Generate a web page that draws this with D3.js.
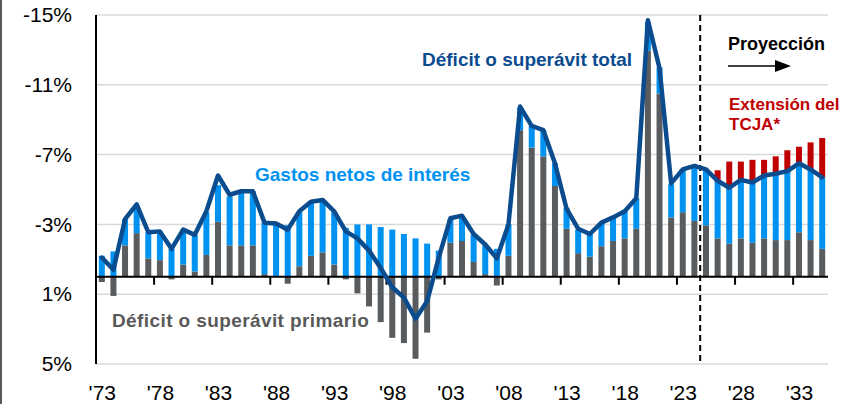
<!DOCTYPE html>
<html lang="es">
<head>
    <meta charset="utf-8">
    <title>Déficit</title>
    <script src="https://d3js.org/d3.v7.min.js"></script>
    <style>
        body { margin: 0; background: #fff; }
        text { font-family: Arial, "Liberation Sans", sans-serif; }
        .lab { font-weight: bold; }
    </style>
</head>
<body>

<script>
    // categories
    const years = d3.range(1973, 2036);
    const xLabels = ["'73","'78","'83","'88","'93","'98","'03","'08","'13","'18","'23","'28","'33"];
    const yTicks = [-15, -11, -7, -3, 1, 5];

    // % del PIB, negativo = déficit
    const primary = [0.3, 1.1, -1.8, -2.5, -1.05, -0.95, 0.15, -0.7, -0.3, -1.25,
        -3.15, -1.8, -1.8, -1.8, -0.15, -0.05, 0.4, -0.6, -1.2, -1.4,
        -0.7, 0.15, 0.95, 1.7, 2.6, 3.5, 3.8, 4.7, 3.2, 0.15,
        -1.95, -2.05, -0.85, -0.15, 0.5, -1.2, -8.4, -7.4, -6.9, -5.2,
        -2.75, -1.35, -1.15, -1.75, -2.05, -2.2, -2.75, -12.95, -10.5, -3.4,
        -3.7, -3.2, -2.95, -2.2, -1.9, -2.2, -1.95, -2.2, -2.1, -2.1,
        -2.55, -2.1, -1.6];
    const interest = [1.2, 1.45, 1.5, 1.6, 1.5, 1.6, 1.6, 1.95, 2.1, 2.45,
        2.1, 2.8, 3.1, 3.1, 2.95, 3.0, 2.95, 3.1, 3.1, 3.0,
        3.0, 2.8, 3.0, 3.0, 2.85, 2.7, 2.45, 2.2, 1.9, 1.5,
        1.35, 1.4, 1.55, 1.65, 1.6, 1.8, 1.3, 1.25, 1.5, 1.3,
        1.2, 1.35, 1.3, 1.35, 1.4, 1.55, 1.75, 1.65, 1.5, 1.9,
        2.45, 3.15, 3.2, 3.25, 3.2, 3.35, 3.45, 3.6, 3.8, 3.95,
        3.95, 4.05, 4.1];
    const total = [-1.1, -0.4, -3.3, -4.15, -2.55, -2.6, -1.6, -2.7, -2.4, -3.75,
        -5.8, -4.7, -4.9, -4.9, -3.1, -3.05, -2.7, -3.75, -4.3, -4.4,
        -3.75, -2.6, -2.2, -1.5, -0.5, 0.6, 1.2, 2.4, 1.4, -1.1,
        -3.35, -3.5, -2.45, -1.85, -1.05, -3.0, -9.75, -8.65, -8.4, -6.5,
        -3.9, -2.75, -2.45, -3.1, -3.4, -3.75, -4.5, -14.7, -11.95, -5.35,
        -6.15, -6.35, -6.15, -5.5, -5.1, -5.55, -5.4, -5.8, -5.9, -6.05,
        -6.5, -6.15, -5.7];
    // extensión TCJA, 2026-2035
    const tcjaYears = d3.range(2026, 2036);
    const tcja = [0.65, 1.5, 1.05, 1.3, 0.9, 1.0, 1.2, 0.95, 1.55, 2.25];

    const W = 852, H = 404;
    const pl = 96, pr = 828, pt = 15, pb = 364;

    const svg = d3.select("body").append("svg").attr("width", W).attr("height", H);

    const x = d3.scaleBand().domain(years).range([pl, pr]).padding(0);
    const y = d3.scaleLinear().domain([-15, 5]).range([pt, pb]);
    const bw = 6;
    const cx = d => x(d) + x.bandwidth() / 2;

    // frame line at left
    svg.append("line").attr("x1", 1).attr("x2", 1).attr("y1", 0).attr("y2", H)
        .attr("stroke", "#222").attr("stroke-width", 1.5);

    // gridlines
    svg.append("g").selectAll("line").data(yTicks).join("line")
        .attr("x1", pl).attr("x2", pr)
        .attr("y1", d => y(d)).attr("y2", d => y(d))
        .attr("stroke", "#d9d9d9").attr("stroke-width", 1.5);

    const rows = years.map((yr, i) => {
        const p = primary[i];
        const base = p < 0 ? p : 0;
        return { yr, p, b0: base, b1: base - interest[i], t: total[i] };
    });

    // primary bars
    svg.append("g").selectAll("rect").data(rows).join("rect")
        .attr("x", d => cx(d.yr) - bw / 2).attr("width", bw)
        .attr("y", d => y(Math.min(0, d.p)))
        .attr("height", d => Math.abs(y(d.p) - y(0)))
        .attr("fill", "#585c5f");

    // net interest bars
    svg.append("g").selectAll("rect").data(rows).join("rect")
        .attr("x", d => cx(d.yr) - bw / 2).attr("width", bw)
        .attr("y", d => y(d.b1))
        .attr("height", d => y(d.b0) - y(d.b1))
        .attr("fill", "#0092f0");

    // TCJA extension bars
    svg.append("g").selectAll("rect").data(tcjaYears).join("rect")
        .attr("x", d => cx(d) - bw / 2).attr("width", bw)
        .attr("y", (d, i) => { const r = rows[years.indexOf(d)]; return y(r.b1 - tcja[i]); })
        .attr("height", (d, i) => { const r = rows[years.indexOf(d)]; return y(r.b1) - y(r.b1 - tcja[i]); })
        .attr("fill", "#c00000");

    // zero line
    svg.append("line").attr("x1", pl).attr("x2", pr)
        .attr("y1", y(0)).attr("y2", y(0))
        .attr("stroke", "#000").attr("stroke-width", 2);

    // x tick marks at category boundaries
    const tickYears = years.filter((d, i) => i > 0 && i % 5 === 0);
    svg.append("g").selectAll("line").data(tickYears).join("line")
        .attr("x1", d => x(d)).attr("x2", d => x(d))
        .attr("y1", y(0)).attr("y2", y(0) + 8)
        .attr("stroke", "#000").attr("stroke-width", 2);

    // projection divider
    svg.append("line")
        .attr("x1", x(2025)).attr("x2", x(2025))
        .attr("y1", pt).attr("y2", pb)
        .attr("stroke", "#000").attr("stroke-width", 2)
        .attr("stroke-dasharray", "6,4");

    // total deficit line
    const line = d3.line().x(d => cx(d.yr)).y(d => y(d.t));
    svg.append("path").datum(rows).attr("d", line)
        .attr("fill", "none").attr("stroke", "#0b4c8f")
        .attr("stroke-width", 4.5).attr("stroke-linejoin", "round").attr("stroke-linecap", "round");

    // y axis
    svg.append("line").attr("x1", pl).attr("x2", pl)
        .attr("y1", pt).attr("y2", pb)
        .attr("stroke", "#000").attr("stroke-width", 2);
    const yAxis = svg.append("g").attr("transform", `translate(${pl - 24},0)`)
        .call(d3.axisLeft(y).tickValues(yTicks).tickSize(0).tickFormat(d => d + "%"));
    yAxis.select(".domain").remove();
    yAxis.selectAll("text").attr("x", 0).attr("font-size", 21)
        .attr("font-family", "Arial, 'Liberation Sans', sans-serif").attr("fill", "#000");

    // x labels
    const labelYears = years.filter((d, i) => i % 5 === 0);
    const xScaleLab = d3.scalePoint().domain(labelYears).range([cx(1973), cx(2033)]);
    const xAxis = svg.append("g").attr("transform", "translate(0,385)")
        .call(d3.axisBottom(xScaleLab).tickSize(0).tickFormat((d, i) => xLabels[i]));
    xAxis.select(".domain").remove();
    xAxis.selectAll("text").attr("y", 0).attr("dy", "0.72em").attr("font-size", 21)
        .attr("font-family", "Arial, 'Liberation Sans', sans-serif").attr("fill", "#000");

    // annotations
    const note = (tx, ty, s, col, size) => svg.append("text").attr("class", "lab")
        .attr("x", tx).attr("y", ty).attr("fill", col).attr("font-size", size).text(s);
    note(422, 66, "Déficit o superávit total", "#0b4c8f", 19);
    note(255, 181, "Gastos netos de interés", "#0092f0", 19);
    note(112, 327, "Déficit o superávit primario", "#595959", 19).attr("letter-spacing", 0.4);
    note(728, 50, "Proyección", "#000", 18);
    note(729, 110, "Extensión del", "#c00000", 17);
    note(729, 130, "TCJA*", "#c00000", 17);

    // arrow
    svg.append("line").attr("x1", 728).attr("x2", 778).attr("y1", 66).attr("y2", 66)
        .attr("stroke", "#000").attr("stroke-width", 1.5);
    svg.append("path").attr("d", "M775,60 L791,66 L775,72 Z").attr("fill", "#000");
</script>

</body>
</html>
